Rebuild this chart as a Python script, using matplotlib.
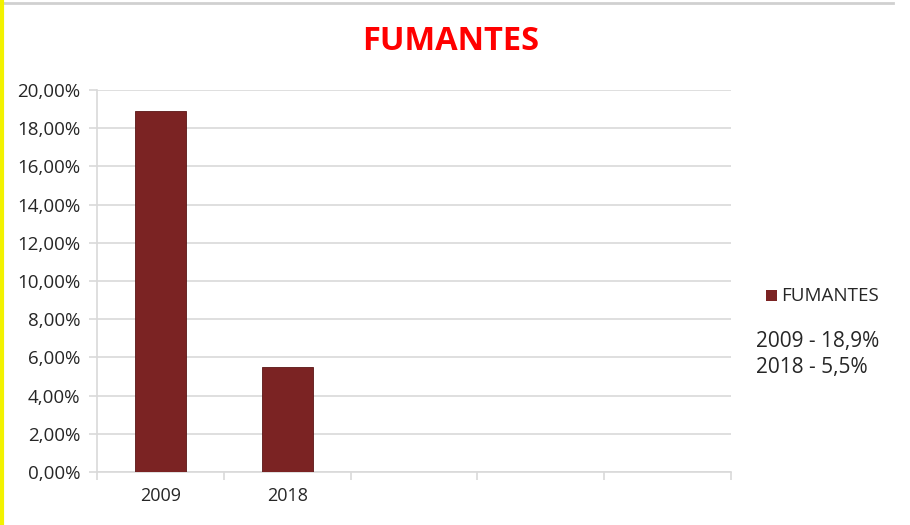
import matplotlib
matplotlib.use("Agg")
import matplotlib.pyplot as plt
from matplotlib.lines import Line2D
from matplotlib.patches import Rectangle
from matplotlib.ticker import FuncFormatter, MultipleLocator

categories = ["2009", "2018", "", "", ""]
values = [18.9, 5.5, None, None, None]
series_name = "FUMANTES"
title = "FUMANTES"
notes = ["2009 - 18,9%", "2018 - 5,5%"]

plt.rcParams['font.family'] = ['Open Sans', 'DejaVu Sans']

W, H = 910, 525
fig = plt.figure(figsize=(W / 100, H / 100), dpi=100)
ax = fig.add_axes([97 / W, 1 - 472 / H, (731 - 97) / W, (472 - 90) / H])

bar_color = "#7B2323"
xs = [i for i, v in enumerate(values) if v is not None]
ys = [values[i] for i in xs]
ax.bar(xs, ys, width=0.4, color=bar_color, edgecolor="#5a1515", linewidth=0.6,
       zorder=3, label=series_name)

ax.set_xlim(-0.5, len(categories) - 0.5)
ax.set_ylim(0, 20)
ax.yaxis.set_major_locator(MultipleLocator(2))
ax.yaxis.set_major_formatter(FuncFormatter(lambda v, p: f"{v:.2f}".replace(".", ",") + "%"))
grid_c = "#d9d9d9"
ax.grid(axis="y", color=grid_c, linewidth=1.2, zorder=0)
for s in ["top", "right"]:
    ax.spines[s].set_visible(False)
for s in ["left", "bottom"]:
    ax.spines[s].set_color(grid_c)
    ax.spines[s].set_linewidth(1.2)

ax.set_xticks(range(len(categories)))
ax.set_xticklabels(categories)
ax.tick_params(axis="x", length=0, labelsize=13, pad=11, colors="#262626")
ax.set_xticks([i - 0.5 for i in range(len(categories) + 1)], minor=True)
ax.tick_params(axis="x", which="minor", length=6, color=grid_c, width=1.2)
ax.tick_params(axis="y", length=6, color=grid_c, width=1.2, labelsize=13.5,
               pad=6, labelcolor="#262626")

fig.text(451 / W, 1 - 42 / H, title, color="#FF0000", fontsize=23.5, fontweight="bold",
         ha="center", va="center")

# legend
fig.patches.append(Rectangle((766 / W, 1 - 301 / H), 11 / W, 11 / H,
                             transform=fig.transFigure, facecolor=bar_color,
                             edgecolor="none"))
fig.text(781 / W, 1 - 296 / H, series_name, fontsize=13.5, color="#262626",
         ha="left", va="center")
for k, n in enumerate(notes):
    fig.text(756 / W, 1 - (342 + 25 * k) / H, n, fontsize=15, color="#262626",
             ha="left", va="center")

# frame lines
fig.add_artist(Line2D([0, 893 / W], [1 - 2.5 / H, 1 - 2.5 / H], transform=fig.transFigure,
                      color="#d0d0d0", linewidth=2))
fig.add_artist(Line2D([1.5 / W, 1.5 / W], [0, 1], transform=fig.transFigure,
                      color="#F2F200", linewidth=3))

fig.savefig("out.png", dpi=100)
